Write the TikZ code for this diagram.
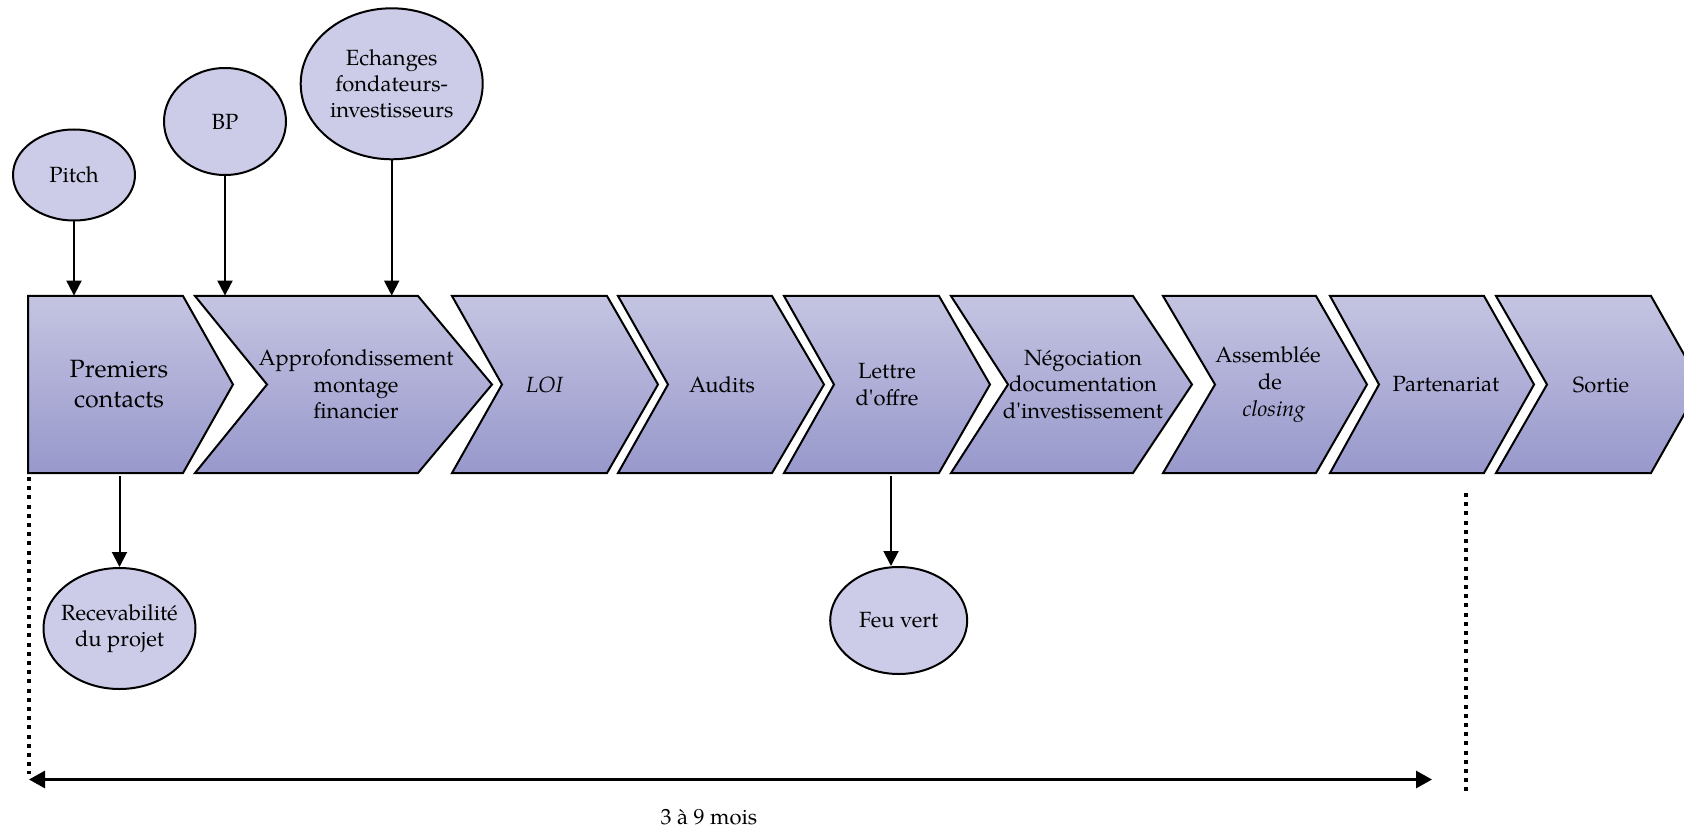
\documentclass[tikz,border=0pt]{standalone}
\usepackage{fontspec}
\newfontfamily\pal{TeX Gyre Pagella}
\usetikzlibrary{shapes.geometric,arrows.meta,calc}
\definecolor{chtop}{RGB}{196,196,226}
\definecolor{chbot}{RGB}{152,152,204}
\definecolor{ellfill}{RGB}{204,204,232}
\begin{document}
\begin{tikzpicture}[x=0.5pt,y=-0.5pt,
  chev/.style={draw=black,line width=1pt,line join=miter,top color=chtop,bottom color=chbot},
  chevtext/.style={align=center,font=\pal\fontsize{11}{13.3}\selectfont,inner sep=0pt,minimum height=88.5pt},
  ell/.style={ellipse,draw=black,line width=1pt,fill=ellfill,inner sep=0pt},
  elltext/.style={align=center,font=\pal\fontsize{11}{13}\selectfont,inner sep=0pt},
  arr/.style={-{Triangle[length=7.5pt,width=7.5pt]},line width=1pt},
  dotline/.style={line width=2pt,dash pattern=on 2pt off 2.6pt},
  spanarrow/.style={{Triangle[length=8pt,width=8.5pt]}-{Triangle[length=8pt,width=8.5pt]},line width=1.5pt}]
\useasboundingbox (0,0) rectangle (1684,828);
\clip (0,0) rectangle (1684,828);
% chevrons
\path[chev] (28,296) -- (183,296) -- (233,384.5) -- (183,473) -- (28,473) -- cycle;
\node[chevtext,font=\pal\fontsize{12.5}{15}\selectfont] (c1) at (119,384.5) {Premiers\\contacts};
\path[chev] (195,296) -- (418,296) -- (492,384.5) -- (418,473) -- (195,473) -- (267,384.5) -- cycle;
\node[chevtext] (c2) at (356,384.5) {Approfondissement\\montage\\financier};
\path[chev] (452,296) -- (607,296) -- (658,384.5) -- (607,473) -- (452,473) -- (502,384.5) -- cycle;
\node[chevtext] (c3) at (544.5,384.5) {\itshape LOI};
\path[chev] (618,296) -- (772,296) -- (824,384.5) -- (772,473) -- (618,473) -- (668,384.5) -- cycle;
\node[chevtext] (c4) at (722,384.5) {Audits};
\path[chev] (784,296) -- (939,296) -- (990,384.5) -- (939,473) -- (784,473) -- (834,384.5) -- cycle;
\node[chevtext] (c5) at (887,384.5) {Lettre\\d'offre};
\path[chev] (951,296) -- (1133,296) -- (1192,384.5) -- (1133,473) -- (951,473) -- (1008,384.5) -- cycle;
\node[chevtext] (c6) at (1083,384.5) {Négociation\\documentation\\d'investissement};
\path[chev] (1163,296) -- (1316,296) -- (1367,384.5) -- (1316,473) -- (1163,473) -- (1215,384.5) -- cycle;
\node[chevtext] (c7) at (1268,384.5) {Assemblée\\\hspace*{2pt}de\\\hspace*{6pt}\textit{closing}};
\path[chev] (1330,296) -- (1484,296) -- (1534,384.5) -- (1484,473) -- (1330,473) -- (1379,384.5) -- cycle;
\node[chevtext] (c8) at (1446,384.5) {Partenariat};
\path[chev] (1496,296) -- (1651,296) -- (1701,384.5) -- (1651,473) -- (1496,473) -- (1547,384.5) -- cycle;
\node[chevtext] (c9) at (1601,384.5) {Sortie};
% ellipses
\node[ell,minimum width=61pt,minimum height=45.5pt,label={[elltext]center:Pitch}] (pitch) at (74,175) {};
\node[ell,minimum width=61pt,minimum height=53.5pt,label={[elltext]center:BP}] (bp) at (225,121.5) {};
\node[ell,minimum width=91pt,minimum height=75.5pt,label={[elltext]center:Echanges\\fondateurs-\\investisseurs}] (ech) at (391.7,83.8) {};
\node[ell,minimum width=76pt,minimum height=60.5pt,label={[elltext]center:Recevabilité\\du projet}] (rec) at (119.5,628.5) {};
\node[ell,minimum width=68.5pt,minimum height=53.5pt,label={[elltext]center:Feu vert}] (feu) at (898.7,620.5) {};
% arrows
\draw[arr] (pitch) -- (pitch |- c1.north);
\draw[arr] (bp) -- (bp |- c2.north);
\draw[arr] (ech) -- (ech |- c2.north);
\draw[arr] ([yshift=-1.5pt]rec |- c1.south) -- (rec);
\draw[arr] ([xshift=2pt,yshift=-1.5pt]c5.south) -- ([xshift=2pt]c5.south |- feu.north);
% time span
\coordinate (dl1) at (29,477);
\coordinate (dl2) at (29,774);
\coordinate (dr1) at (1466,493);
\coordinate (dr2) at (1466,795);
\coordinate (sa) at (29,779.5);
\coordinate (sb) at (1432,779.5);
\draw[dotline] (dl1) -- (dl2);
\draw[dotline] (dr1) -- (dr2);
\draw[spanarrow] (sa) -- (sb);
\node[font=\pal\fontsize{11}{13}\selectfont,inner sep=0pt] (dur) at (709,817) {3 à 9 mois};
\end{tikzpicture}
\end{document}
